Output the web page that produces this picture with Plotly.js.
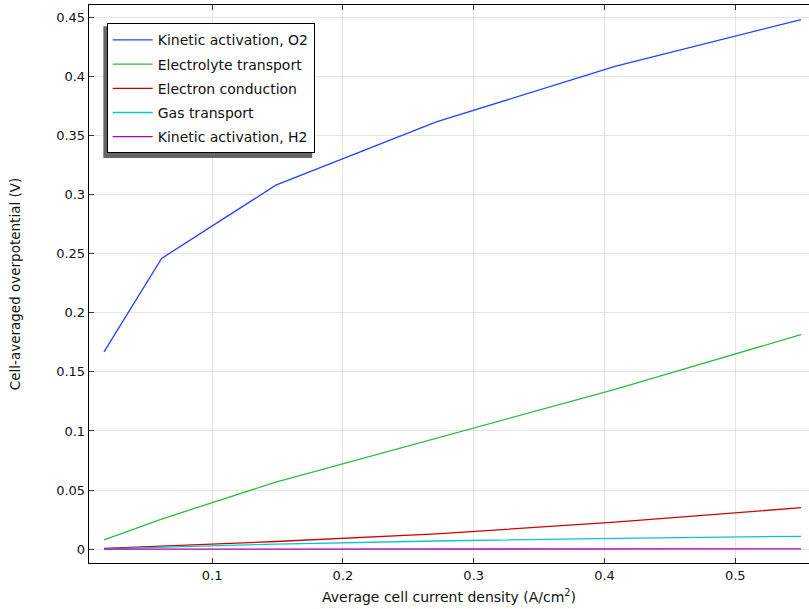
<!DOCTYPE html>
<html>
<head>
<meta charset="utf-8">
<script src="https://cdn.plot.ly/plotly-3.0.1.min.js"></script>
<style>html,body{margin:0;padding:0;background:#fff}#chart{width:809px;height:609px}</style>
</head>
<body>
<div id="chart"></div>
<script>
const currentDensity = [0.0173, 0.0613, 0.1487, 0.2714, 0.408, 0.5503];
const kineticO2 = [0.167, 0.246, 0.308, 0.3615, 0.4085, 0.448];
const electrolyte = [0.0078, 0.0255, 0.0568, 0.0942, 0.1352, 0.1815];
const electron = [0.0006, 0.0025, 0.0065, 0.013, 0.0228, 0.0351];
const gas = [0.0003, 0.0015, 0.0043, 0.0069, 0.0092, 0.0109];
const kineticH2 = [0.00002, 0.00005, 0.0001, 0.00015, 0.0002, 0.00025];

const seriesNames = ["Kinetic activation, O2", "Electrolyte transport", "Electron conduction", "Gas transport", "Kinetic activation, H2"];
const seriesData = [kineticO2, electrolyte, electron, gas, kineticH2];
const colors = ["#1f45fc", "#2fbb3f", "#d40000", "#00c8d0", "#b000b8"];

const traces = seriesData.map((y, i) => ({
  x: currentDensity, y: y, name: seriesNames[i], type: "scatter", mode: "lines",
  legendgroup: "g" + i,
  line: {color: colors[i], width: 1.3}
}));

const font = {family: "DejaVu Sans, sans-serif", size: 13, color: "#111"};
const layout = {
  width: 809, height: 609,
  margin: {l: 89, r: 0, t: 5, b: 46},
  paper_bgcolor: "#fff", plot_bgcolor: "#fff",
  font: font,
  showlegend: true,
  legend: {
    x: 0.0246, y: 0.9672, xanchor: "left", yanchor: "top",
    bgcolor: "#fff", bordercolor: "#000", borderwidth: 1,
    font: {family: "DejaVu Sans, sans-serif", size: 14, color: "#111"},
    tracegroupgap: 3, itemwidth: 40
  },
  xaxis: {
    range: [0.0058, 0.5564],
    tickvals: [0.1, 0.2, 0.3, 0.4, 0.5],
    ticktext: ["0.1", "0.2", "0.3", "0.4", "0.5"],
    ticks: "inside", ticklen: 5, tickcolor: "#333", tickwidth: 1,
    showline: true, linecolor: "#000", linewidth: 1.3, mirror: "ticks",
    showgrid: true, gridcolor: "#e4e4e4", gridwidth: 1,
    zeroline: false,
    title: {text: "Average cell current density (A/cm<sup>2</sup>)", font: {family: font.family, size: 14, color: "#111"}, standoff: 10}
  },
  yaxis: {
    range: [-0.0117, 0.4604],
    tickvals: [0, 0.05, 0.1, 0.15, 0.2, 0.25, 0.3, 0.35, 0.4, 0.45],
    ticktext: ["0", "0.05", "0.1", "0.15", "0.2", "0.25", "0.3", "0.35", "0.4", "0.45"],
    ticks: "inside", ticklen: 5, tickcolor: "#333", tickwidth: 1,
    showline: true, linecolor: "#000", linewidth: 1.3,
    showgrid: true, gridcolor: "#e4e4e4", gridwidth: 1,
    zeroline: false,
    title: {text: "Cell-averaged overpotential (V)", font: {family: font.family, size: 13.5, color: "#111"}, standoff: 32}
  },
  shapes: [{
    type: "rect", xref: "paper", yref: "paper",
    x0: 0.0199, x1: 0.31, y0: 0.7258, y1: 0.9618,
    fillcolor: "#666", line: {width: 0}, layer: "above"
  }]
};
Plotly.newPlot("chart", traces, layout, {displayModeBar: false, staticPlot: true});
</script>
</body>
</html>
